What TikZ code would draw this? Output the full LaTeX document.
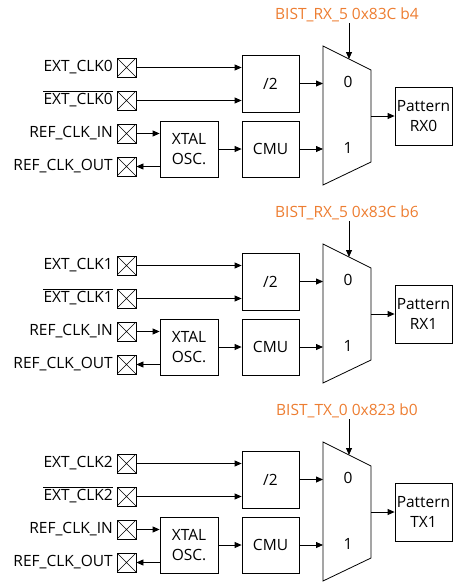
\documentclass[tikz,border=0pt]{standalone}
\usepackage{fontspec}
\setmainfont{Open Sans}
\usetikzlibrary{arrows.meta,calc}
\definecolor{bistorange}{RGB}{237,125,49}
\tikzset{
  fnt/.style={font=\fontsize{15.5}{20}\selectfont},
  blk/.style={draw, line width=0.8pt, inner sep=0pt, align=center, fnt},
  pad/.style={draw, line width=0.8pt, minimum size=19pt, inner sep=0pt,
    path picture={\draw[line width=0.6pt] (path picture bounding box.north west)--(path picture bounding box.south east)
      (path picture bounding box.south west)--(path picture bounding box.north east);}},
  lbl/.style={anchor=east, inner sep=0pt, fnt},
  arr/.style={-{Triangle[length=7pt,width=6pt]}, line width=0.8pt},
  reg/.style={text=bistorange, inner sep=1pt, fnt},
  muxline/.style={line width=0.8pt},
  barline/.style={line width=0.7pt}
}
\begin{document}
\begin{tikzpicture}[x=1pt,y=-1pt]
\useasboundingbox (0,0) rectangle (453,582);
\foreach \i/\sel/\pat in {0/{BIST\_RX\_5 0x83C b4}/{RX0}, 1/{BIST\_RX\_5 0x83C b6}/{RX1}, 2/{BIST\_TX\_0 0x823 b0}/{TX1}} {
  \begin{scope}[shift={(0,\i*198)}]
    % pads
    \node[pad] (pa\i) at (126.5,67.5) {};
    \node[pad] (pb\i) at (126.5,100.5) {};
    \node[pad] (pc\i) at (126.5,133.5) {};
    \node[pad] (pd\i) at (126.5,166.5) {};
    % labels
    \node[lbl] (la\i) at (113,67.5) {EXT\_CLK\i};
    \node[lbl] (lb\i) at (113,100.5) {EXT\_CLK\i};
    \draw[barline] ([yshift=2pt]lb\i.north west) -- ([yshift=2pt]lb\i.north east);
    \node[lbl] (lc\i) at (113,133.5) {REF\_CLK\_IN};
    \node[lbl] (ld\i) at (113,166.5) {REF\_CLK\_OUT};
    % blocks
    \node[blk, minimum width=57pt, minimum height=57pt] (div\i) at (270.5,83.5) {/2};
    \node[blk, minimum width=57pt, minimum height=56pt] (cmu\i) at (270.5,149) {CMU};
    \node[blk, minimum width=58pt, minimum height=56pt] (xtal\i) at (189,149) {XTAL\\OSC.};
    \node[blk, minimum width=57pt, minimum height=58pt] (pat\i) at (423.5,116) {Pattern\\\pat};
    % mux
    \draw[muxline] (323,46) -- (371,70) -- (371,162) -- (323,185) -- cycle;
    \node[fnt] (mz\i) at (348,82) {0};
    \node[fnt] (mo\i) at (348,148) {1};
    \coordinate (mi0\i) at (323,83.5);
    \coordinate (mi1\i) at (323,149);
    \coordinate (mout\i) at (371,116);
    \coordinate (mtop\i) at (349,59);
    % select
    \node[reg] (sel\i) at (347,15) {\sel};
    % connectors
    \draw[arr] (pa\i.east) -- (pa\i.east -| div\i.west);
    \draw[arr] (pb\i.east) -- (pb\i.east -| div\i.west);
    \draw[arr] (pc\i.east) -- (pc\i.east -| xtal\i.west);
    \draw[arr] (xtal\i.west |- pd\i.east) -- (pd\i.east);
    \draw[arr] (xtal\i.east) -- (cmu\i.west);
    \draw[arr] (div\i.east) -- (mi0\i);
    \draw[arr] (cmu\i.east) -- (mi1\i);
    \draw[arr] (mout\i) -- (mout\i -| pat\i.west);
    \draw[arr] (sel\i.south -| mtop\i) -- (mtop\i);
  \end{scope}
}
\end{tikzpicture}
\end{document}
